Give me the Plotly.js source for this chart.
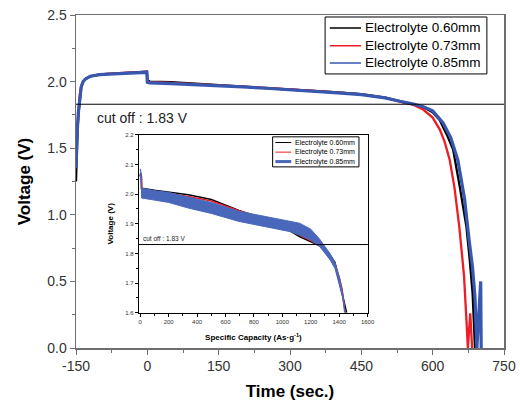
<!DOCTYPE html>
<html>
<head>
<meta charset="utf-8">
<script src="https://cdn.plot.ly/plotly-3.0.1.min.js"></script>
<style>html,body{margin:0;padding:0;background:#fff;}#chart{width:520px;height:406px;}</style>
</head>
<body>
<div id="chart"></div>
<script>
// ---- Data ----
const seriesNames = ["Electrolyte 0.60mm", "Electrolyte 0.73mm", "Electrolyte 0.85mm"];
const cutoffVoltage = 1.83;
const cutoffLabel = "cut off : 1.83 V";

// Main chart: voltage vs time (sec.)
const timeBlack = [-150,-149,-147,-145,-142,-139,-135,-130,-120,-100,-70,-40,-10,-1,0,5,50,100,150,200,250,300,350,400,450,500,531,560,580,600,615,630,643,657,671,678,684,689];
const voltBlack = [1.25,1.45,1.62,1.75,1.88,1.96,2.0,2.02,2.04,2.055,2.06,2.065,2.07,2.075,2.01,2.0,1.995,1.985,1.975,1.963,1.953,1.943,1.93,1.918,1.905,1.88,1.852,1.83,1.81,1.77,1.71,1.6,1.49,1.21,0.91,0.66,0.41,0.0];

const timeRed = [-150,-149,-147,-145,-142,-139,-135,-130,-120,-100,-70,-40,-10,-1,0,5,50,100,150,200,250,300,350,400,450,500,531,560,580,600,615,625,636,646,656,666,671,674,679,683];
const voltRed = [1.4,1.5,1.65,1.78,1.9,1.97,2.0,2.02,2.04,2.055,2.062,2.068,2.072,2.075,2.0,1.995,1.99,1.982,1.972,1.962,1.952,1.942,1.93,1.918,1.904,1.88,1.85,1.825,1.79,1.73,1.64,1.55,1.41,1.2,0.91,0.54,0.21,0.0,0.26,0.0];

const timeBlue = [-150,-149,-147,-145,-142,-139,-135,-130,-120,-100,-70,-40,-10,-1,0,5,50,100,150,200,250,300,350,400,450,500,531,560,580,600,622,638,653,667,677,684,689,693,701,702];
const voltBlue = [1.35,1.5,1.65,1.77,1.89,1.96,2.0,2.02,2.04,2.052,2.058,2.063,2.068,2.07,1.995,1.99,1.985,1.978,1.968,1.96,1.95,1.94,1.928,1.915,1.902,1.878,1.852,1.832,1.812,1.78,1.69,1.58,1.41,1.12,0.8,0.6,0.38,0.0,0.5,0.0];

// Inset: voltage vs specific capacity (As g^-1)
const capBlack = [0,3,8,10,100,200,339,500,695,800,932,1050,1121,1200,1263,1300,1335,1370,1405,1425,1441,1452];
const vBlack  = [2.06,2.07,2.06,2.02,2.013,2.007,1.998,1.982,1.945,1.928,1.902,1.877,1.857,1.84,1.826,1.812,1.795,1.77,1.70,1.66,1.62,1.6];

const capRed = [0,3,8,10,100,200,339,500,695,800,932,1050,1121,1200,1263,1300,1335,1370,1400,1420,1432,1440];
const vRed   = [2.06,2.065,2.058,2.016,2.009,2.002,1.992,1.977,1.944,1.929,1.905,1.882,1.862,1.843,1.828,1.812,1.793,1.765,1.72,1.68,1.64,1.6];

const capBlue = [0,2,5,8,10,100,200,339,500,695,800,932,1050,1121,1200,1263,1335,1370,1405,1425,1443];
const vBlueUpper = [2.08,2.085,2.075,2.065,2.02,2.012,2.006,1.99,1.972,1.942,1.932,1.919,1.91,1.902,1.882,1.848,1.8,1.77,1.712,1.665,1.6];
const vBlueLower = [2.05,2.055,2.05,2.04,1.987,1.98,1.972,1.953,1.935,1.908,1.898,1.886,1.874,1.862,1.845,1.823,1.779,1.75,1.69,1.65,1.6];

// Axis ticks
const mainXTicks = [-150,0,150,300,450,600,750];
const mainYTicks = [0.0,0.5,1.0,1.5,2.0,2.5];
const insetXTicks = [0,200,400,600,800,1000,1200,1400,1600];
const insetYTicks = [1.6,1.7,1.8,1.9,2.0,2.1,2.2];

const colBlack = "#000000", colRed = "#ee1c24", colBlue = "#3858b0", colBlueInset = "#4a68bb";
const seriesColors = [colBlack, colRed, colBlue];
const FONT = "Liberation Sans, Arial, sans-serif";

const traces = [
  {x: timeBlack, y: voltBlack, type: "scatter", mode: "lines", name: seriesNames[0],
   line: {color: colBlack, width: 2.3}, xaxis: "x", yaxis: "y"},
  {x: timeRed, y: voltRed, type: "scatter", mode: "lines", name: seriesNames[1],
   line: {color: colRed, width: 2.3}, xaxis: "x", yaxis: "y"},
  {x: timeBlue, y: voltBlue, type: "scatter", mode: "lines", name: seriesNames[2],
   line: {color: colBlue, width: 3.2}, xaxis: "x", yaxis: "y"},
  {x: capBlack, y: vBlack, type: "scatter", mode: "lines", name: seriesNames[0],
   line: {color: colBlack, width: 1.6}, xaxis: "x2", yaxis: "y2"},
  {x: capRed, y: vRed, type: "scatter", mode: "lines", name: seriesNames[1],
   line: {color: colRed, width: 1.6}, xaxis: "x2", yaxis: "y2"},
  {x: capBlue, y: vBlueUpper, type: "scatter", mode: "lines", name: seriesNames[2],
   line: {color: colBlueInset, width: 1}, xaxis: "x2", yaxis: "y2"},
  {x: capBlue, y: vBlueLower, type: "scatter", mode: "lines", name: seriesNames[2], fill: "tonexty",
   fillcolor: colBlueInset, line: {color: colBlueInset, width: 1}, xaxis: "x2", yaxis: "y2"}
];

// Legends drawn as shapes + texts so that their compact spacing matches the reference
function makeLegend(xref, yref, box, rows, lineX, textX, fontSize, widths) {
  const shapes = [{type: "rect", xref, yref, x0: box[0], x1: box[1], y0: box[2], y1: box[3],
    fillcolor: "#fff", line: {color: "#000", width: 1}, layer: "above"}];
  const texts = [];
  seriesNames.forEach((n, i) => {
    shapes.push({type: "line", xref, yref, x0: lineX[0], x1: lineX[1], y0: rows[i], y1: rows[i],
      line: {color: i === 2 && widths[2] > 2 ? colBlueInset : seriesColors[i], width: widths[i]}, layer: "above"});
    texts.push({xref, yref, x: textX, y: rows[i], xanchor: "left", yanchor: "middle",
      text: n, showarrow: false, font: {size: fontSize, family: FONT, color: "#000"}});
  });
  return {shapes, texts};
}
const mainLegend = makeLegend("x domain", "y domain", [0.582, 0.960, 0.823, 0.994],
  [0.961, 0.908, 0.856], [0.593, 0.666], 0.671, 13.5, [1.5, 1.5, 1.5]);
const insetLegend = makeLegend("x2 domain", "y2 domain", [0.584, 0.961, 0.82, 0.989],
  [0.957, 0.903, 0.850], [0.596, 0.665], 0.672, 7, [1, 1, 3]);

const layout = {
  width: 520, height: 406,
  margin: {l: 76, r: 16, t: 15, b: 58},
  paper_bgcolor: "#fff", plot_bgcolor: "#fff",
  font: {family: FONT, color: "#222"},
  showlegend: false,
  xaxis: {
    range: [-150, 750], tickvals: mainXTicks, ticktext: mainXTicks.map(String),
    showgrid: false, zeroline: false, showline: true, mirror: true,
    linecolor: "#6e6e6e", linewidth: 1.5, ticks: "outside", ticklen: 5, tickcolor: "#6e6e6e",
    minor: {dtick: 75, ticks: "outside", ticklen: 3, tickcolor: "#6e6e6e"},
    tickfont: {size: 14, family: FONT, color: "#333"},
    title: {text: "<b>Time (sec.)</b>", font: {size: 17, family: FONT, color: "#000"}, standoff: 12},
    domain: [0, 1]
  },
  yaxis: {
    range: [0, 2.5], tickvals: mainYTicks, ticktext: mainYTicks.map(v => v.toFixed(1)),
    showgrid: false, zeroline: false, showline: true, mirror: true,
    linecolor: "#6e6e6e", linewidth: 1.5, ticks: "outside", ticklen: 5, tickcolor: "#6e6e6e",
    minor: {dtick: 0.25, ticks: "outside", ticklen: 3, tickcolor: "#6e6e6e"},
    tickfont: {size: 14, family: FONT, color: "#333"},
    title: {text: "<b>Voltage (V)</b>", font: {size: 17, family: FONT, color: "#000"}, standoff: 12},
    domain: [0, 1]
  },
  xaxis2: {
    anchor: "y2", domain: [0.147, 0.682], range: [-9, 1602],
    tickvals: insetXTicks, ticktext: insetXTicks.map(String),
    showgrid: false, zeroline: false, showline: true, mirror: true,
    linecolor: "#000", linewidth: 1, ticks: "outside", ticklen: 3, tickcolor: "#000",
    minor: {dtick: 100, ticks: "outside", ticklen: 2, tickcolor: "#000"},
    tickfont: {size: 6, family: FONT, color: "#333"},
    title: {text: "<b>Specific Capacity (As·g<sup>-1</sup>)</b>", font: {size: 8, family: FONT, color: "#000"}, standoff: 10}
  },
  yaxis2: {
    anchor: "x2", domain: [0.106, 0.64], range: [1.6, 2.2],
    tickvals: insetYTicks, ticktext: insetYTicks.map(v => v.toFixed(1)),
    showgrid: false, zeroline: false, showline: true, mirror: true,
    linecolor: "#000", linewidth: 1, ticks: "outside", ticklen: 3, tickcolor: "#000",
    minor: {dtick: 0.05, ticks: "outside", ticklen: 2, tickcolor: "#000"},
    tickfont: {size: 6, family: FONT, color: "#333"},
    title: {text: "<b>Voltage (V)</b>", font: {size: 8, family: FONT, color: "#000"}, standoff: 10}
  },
  shapes: [
    {type: "line", xref: "x domain", yref: "y", x0: 0, x1: 1, y0: cutoffVoltage, y1: cutoffVoltage,
     line: {color: "#000", width: 1}},
    {type: "line", xref: "x2 domain", yref: "y2", x0: 0, x1: 1, y0: cutoffVoltage, y1: cutoffVoltage,
     line: {color: "#000", width: 1}}
  ].concat(mainLegend.shapes, insetLegend.shapes),
  annotations: [
    {xref: "paper", yref: "y", x: 0.045, y: cutoffVoltage, xanchor: "left", yanchor: "top", yshift: -4,
     text: cutoffLabel, showarrow: false, font: {size: 14, family: FONT, color: "#222"}},
    {xref: "x2 domain", yref: "y2", x: 0.01, y: cutoffVoltage, xanchor: "left", yanchor: "bottom", yshift: 1,
     text: cutoffLabel, showarrow: false, font: {size: 6.5, family: FONT, color: "#222"}}
  ].concat(mainLegend.texts, insetLegend.texts)
};

Plotly.newPlot("chart", traces, layout, {displayModeBar: false, staticPlot: true});
</script>
</body>
</html>
